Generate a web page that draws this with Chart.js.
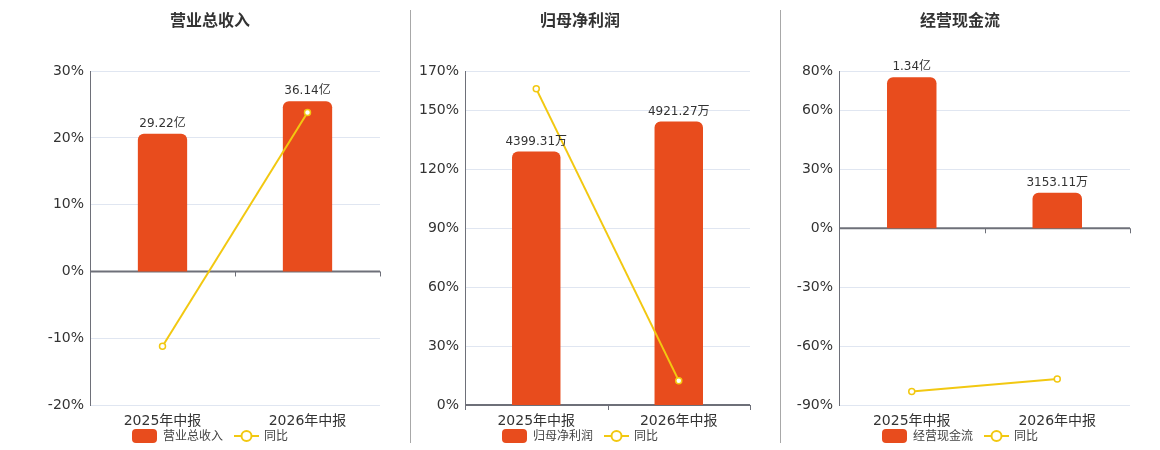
<!DOCTYPE html>
<html>
<head>
<meta charset="utf-8">
<script src="https://cdn.jsdelivr.net/npm/chart.js@4/dist/chart.umd.min.js"></script>
<style>
  body { margin: 0; background: #fff; }
  #wrap { position: relative; width: 1160px; height: 450px; }
  .panel { position: absolute; top: 0; width: 360px; height: 450px; }
  .sep { position: absolute; top: 10px; width: 1px; height: 433px; background: #a8a8a8; }
</style>
</head>
<body>
<div id="wrap">
  <div class="panel" style="left:30px"><canvas id="revenueChart"></canvas></div>
  <div class="sep" style="left:410px"></div>
  <div class="panel" style="left:400px"><canvas id="profitChart"></canvas></div>
  <div class="sep" style="left:780px"></div>
  <div class="panel" style="left:780px"><canvas id="cashChart"></canvas></div>
</div>
<script>
const categories = ['2025年中报', '2026年中报'];

// 营业总收入 (亿)
const revenueValues = [29.22, 36.14];
const revenueLabels = ['29.22亿', '36.14亿'];
const revenueYoy = [-11.2, 23.8];
const revenueTicks = [-20, -10, 0, 10, 20, 30];

// 归母净利润 (万)
const profitValues = [4399.31, 4921.27];
const profitLabels = ['4399.31万', '4921.27万'];
const profitYoy = [161.0, 12.4];
const profitTicks = [0, 30, 60, 90, 120, 150, 170];

// 经营现金流 (万)
const cashValues = [13400, 3153.11];
const cashLabels = ['1.34亿', '3153.11万'];
const cashYoy = [-83.1, -76.8];
const cashTicks = [-90, -60, -30, 0, 30, 60, 80];

const BAR_COLOR = '#e84c1d';
const LINE_COLOR = '#f2c811';
const FONT = '"DejaVu Sans", "Noto Sans CJK SC", sans-serif';

// zero line with category ticks, value labels above bars, and the legend
const extras = {
  id: 'extras',
  beforeDatasetsDraw(chart) {
    const { ctx, chartArea, scales } = chart;
    const y0 = scales.y.getPixelForValue(0);
    ctx.save();
    ctx.strokeStyle = '#6e7079';
    ctx.lineWidth = 2;
    ctx.beginPath();
    ctx.moveTo(chartArea.left, y0);
    ctx.lineTo(chartArea.right, y0);
    ctx.stroke();
    ctx.lineWidth = 1;
    const step = (chartArea.right - chartArea.left) / categories.length;
    for (let i = 0; i <= categories.length; i++) {
      const px = Math.round(chartArea.left + step * i) + 0.5;
      ctx.beginPath();
      ctx.moveTo(px, y0);
      ctx.lineTo(px, y0 + 5);
      ctx.stroke();
    }
    ctx.restore();
  },
  afterDatasetsDraw(chart, args, opts) {
    const { ctx } = chart;
    const meta = chart.getDatasetMeta(0);
    ctx.save();
    ctx.font = '12px ' + FONT;
    ctx.fillStyle = '#333';
    ctx.textAlign = 'center';
    ctx.textBaseline = 'bottom';
    meta.data.forEach((bar, i) => {
      ctx.fillText(opts.labels[i], bar.x, bar.y - 4);
    });
    ctx.restore();
  },
  afterDraw(chart) {
    const { ctx } = chart;
    const names = chart.data.datasets.map(d => d.label);
    ctx.save();
    ctx.font = '12px ' + FONT;
    const w0 = ctx.measureText(names[0]).width;
    const w1 = ctx.measureText(names[1]).width;
    const total = 25 + 6 + w0 + 11 + 25 + 5 + w1;
    let x = chart.width / 2 - total / 2;
    const y = chart.height - 14;
    // bar item
    ctx.fillStyle = BAR_COLOR;
    ctx.beginPath();
    ctx.roundRect(x, y - 7, 25, 14, 4);
    ctx.fill();
    x += 31;
    ctx.fillStyle = '#444';
    ctx.textBaseline = 'middle';
    ctx.fillText(names[0], x, y + 1);
    x += w0 + 11;
    // line item
    ctx.strokeStyle = LINE_COLOR;
    ctx.lineWidth = 2;
    ctx.beginPath(); ctx.moveTo(x, y); ctx.lineTo(x + 25, y); ctx.stroke();
    ctx.fillStyle = '#fff';
    ctx.beginPath(); ctx.arc(x + 12.5, y, 5, 0, Math.PI * 2); ctx.fill(); ctx.stroke();
    x += 30;
    ctx.fillStyle = '#444';
    ctx.fillText(names[1], x, y + 1);
    ctx.restore();
  }
};

function makeChart(id, title, values, labels, yoy, ticks, ratio, axisWidth) {
  const ctx = document.getElementById(id).getContext('2d');
  return new Chart(ctx, {
    type: 'bar',
    data: {
      labels: categories,
      datasets: [{
        label: title,
        data: values,
        yAxisID: 'yBar',
        backgroundColor: BAR_COLOR,
        borderRadius: { topLeft: 6, topRight: 6 },
        borderSkipped: 'bottom',
        barPercentage: 0.34,
        categoryPercentage: 1,
        order: 1
      }, {
        type: 'line',
        label: '同比',
        data: yoy,
        yAxisID: 'y',
        borderColor: LINE_COLOR,
        borderWidth: 2,
        pointRadius: 3,
        pointBorderWidth: 1.5,
        pointBackgroundColor: '#fff',
        pointBorderColor: LINE_COLOR,
        order: 0
      }]
    },
    options: {
      responsive: false,
      animation: false,
      layout: { padding: { left: 10, right: 10, bottom: 19 } },
      plugins: {
        tooltip: { enabled: false },
        legend: { display: false },
        title: {
          display: true,
          text: title,
          color: '#333',
          font: { family: FONT, size: 16, weight: 'bold' },
          padding: { top: 12, bottom: 40 }
        },
        extras: { labels: labels }
      },
      scales: {
        x: {
          grid: { display: false },
          border: { display: false },
          afterFit: s => { s.height = 26; },
          ticks: { color: '#333', font: { family: FONT, size: 14 }, padding: 0 }
        },
        y: {
          position: 'left',
          min: ticks[0],
          max: ticks[ticks.length - 1],
          afterBuildTicks: s => { s.ticks = ticks.map(v => ({ value: v })); },
          afterFit: s => { s.width = axisWidth; },
          grid: { color: '#e0e6f1', drawTicks: false },
          border: { display: true, color: '#6e7079', width: 1 },
          ticks: {
            color: '#333',
            font: { family: FONT, size: 14 },
            padding: 6,
            callback: v => v + '%'
          }
        },
        yBar: {
          display: false,
          min: ticks[0] * ratio,
          max: ticks[ticks.length - 1] * ratio
        }
      }
    },
    plugins: [extras]
  });
}

function sizeCanvas(id) {
  const c = document.getElementById(id);
  c.width = 360; c.height = 450;
  c.style.width = '360px'; c.style.height = '450px';
}
['revenueChart', 'profitChart', 'cashChart'].forEach(sizeCanvas);

makeChart('revenueChart', '营业总收入', revenueValues, revenueLabels, revenueYoy, revenueTicks, 1.417, 50);
makeChart('profitChart', '归母净利润', profitValues, profitLabels, profitYoy, profitTicks, 34.07, 55);
makeChart('cashChart', '经营现金流', cashValues, cashLabels, cashYoy, cashTicks, 174.2, 49);
</script>
</body>
</html>
